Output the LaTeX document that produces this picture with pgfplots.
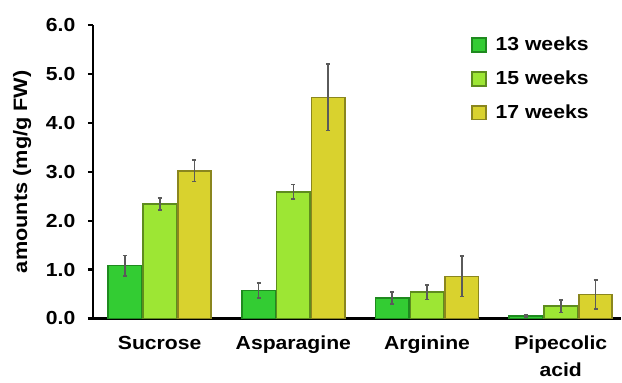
\documentclass[border=0pt]{standalone}
\usepackage{fontspec}
\setmainfont{Liberation Sans}[FakeStretch=1.12]
\usepackage{pgfplots}
\usepackage{pgfplotstable}
\pgfplotsset{compat=1.18}
\definecolor{cA}{HTML}{33CC33}
\definecolor{eA}{HTML}{1F8A1F}
\definecolor{cB}{HTML}{9DE634}
\definecolor{eB}{HTML}{5E8C1E}
\definecolor{cC}{HTML}{D9D22E}
\definecolor{eC}{HTML}{8A861E}
\definecolor{errc}{HTML}{5A5A5A}
\pgfplotstableread{
x y err
0 1.08 0.21
1 0.57 0.15
2 0.42 0.12
3 0.05 0.02
}\tA
\pgfplotstableread{
x y err
0 2.34 0.12
1 2.59 0.15
2 0.54 0.15
3 0.25 0.13
}\tB
\pgfplotstableread{
x y err
0 3.02 0.22
1 4.52 0.68
2 0.86 0.41
3 0.49 0.30
}\tC
\begin{document}
\fontsize{19}{23}\selectfont\bfseries
\begin{tikzpicture}
\begin{axis}[
  scale only axis,
  width=529bp, height=294bp,
  xmin=-0.5, xmax=3.45,
  ymin=0, ymax=6,
  axis x line=bottom, axis y line=left,
  axis line style={line width=2.2pt, black},
  x axis line style={-, shorten <=-5bp},
  y axis line style={-},
  xtick={0,1,2,3},
  xticklabels={Sucrose, Asparagine, Arginine, {Pipecolic\\acid}},
  xticklabel style={align=center, font=\fontsize{19}{27}\selectfont\bfseries, yshift=-6bp},
  major x tick style={draw=none},
  ytick={0,1,...,6},
  yticklabel style={font=\fontsize{19}{23}\selectfont\bfseries, xshift=-6bp},
  y tick style={line width=2.2pt, black},
  major tick length=5bp,
  tick align=outside,
  /pgf/number format/.cd, fixed, fixed zerofill, precision=1, assume math mode=true,
  /pgfplots/.cd,
  ylabel={amounts (mg/g FW)},
  ylabel style={font=\fontsize{19.5}{23}\selectfont\bfseries, yshift=2bp},
  ybar, bar width=0.25,
  clip=false,
  legend style={draw=none, fill=none, at={(0.716,0.968)}, anchor=north west,
    font=\fontsize{19}{23}\selectfont\bfseries, row sep=13.5bp, inner sep=0pt},
  legend cell align=left,
  legend image code/.code={\draw[#1, line width=1.5pt] (0bp,-7bp) rectangle (14bp,7bp); \path (21bp,0bp);},
  error bars/y dir=both, error bars/y explicit,
  error bars/error bar style={line width=1.7pt, errc},
  error bars/error mark options={rotate=90, mark size=2bp, line width=1.7pt, errc},
]
\addplot[fill=cA, draw=eA, line width=1.6pt, bar shift=-0.26] table[x=x, y=y, y error=err] {\tA};
\addlegendentry{13 weeks}
\addplot[fill=cB, draw=eB, line width=1.6pt, bar shift=0] table[x=x, y=y, y error=err] {\tB};
\addlegendentry{15 weeks}
\addplot[fill=cC, draw=eC, line width=1.6pt, bar shift=0.26] table[x=x, y=y, y error=err] {\tC};
\addlegendentry{17 weeks}
\end{axis}
\useasboundingbox (-93bp,-60bp) rectangle (529bp,319bp);
\end{tikzpicture}
\end{document}
